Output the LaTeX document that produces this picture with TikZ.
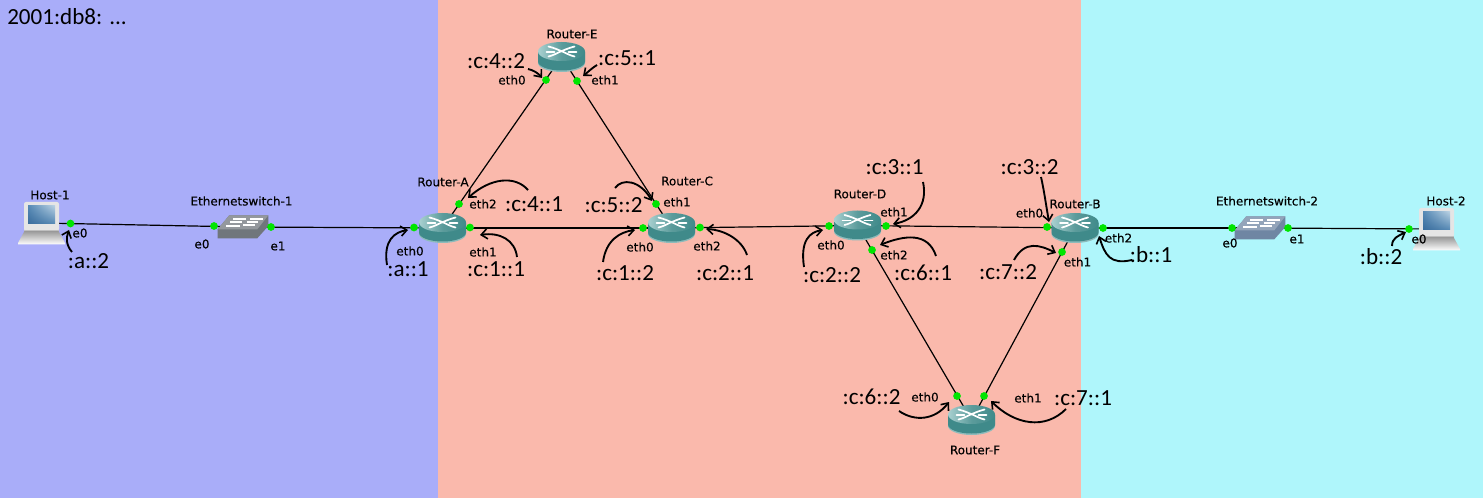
\documentclass[tikz,border=0pt]{standalone}
\usepackage{fontspec}
\setmainfont{DejaVu Sans}
\newfontfamily\bigfont{Carlito}
\newfontfamily\smallfont[FakeBold=0.3]{DejaVu Sans}
\usetikzlibrary{calc,arrows.meta,shadings}
\definecolor{bgblue}{HTML}{A9ADF9}
\definecolor{bgsalmon}{HTML}{FAB9AC}
\definecolor{bgcyan}{HTML}{AFF6FB}
\definecolor{teal1}{HTML}{3F8A8A}
\definecolor{teal2}{HTML}{A9D0D0}
\definecolor{tealrim}{HTML}{8DBBBB}
\definecolor{swgray}{HTML}{70767C}
\definecolor{swblue}{HTML}{6F86A3}
\definecolor{scrA}{HTML}{3A6C9C}
\definecolor{scrB}{HTML}{B8D0E2}
\definecolor{scrC}{HTML}{5488B4}
\tikzset{
  x=0.75pt,y=-0.75pt,
  anchorpt/.style={inner sep=0pt,minimum size=0pt,outer sep=0pt},
  portdot/.style={circle,fill=green!90!black,draw=none,inner sep=0pt,minimum size=5.8pt},
  smalltxt/.style={inner sep=0pt,font=\smallfont\fontsize{9}{10}\selectfont,text=black},
  bigtxt/.style={inner sep=0pt,font=\bigfont\fontsize{17.3}{20}\selectfont,text=black},
  linkline/.style={draw=black,line width=0.9pt},
  addrarrow/.style={draw=black,line width=1.4pt,-{Straight Barb[length=4.5pt,width=7.5pt,line width=1.2pt]}},
  routericon/.pic={
    \fill[tealrim] (-23.5,-5) -- (-23.5,6) arc[start angle=180,end angle=0,x radius=23.5,y radius=9] -- (23.5,-5) -- cycle;
    \fill[teal1] (-23.5,-5) -- (-23.5,4.5) arc[start angle=180,end angle=0,x radius=23.5,y radius=9] -- (23.5,-5) -- cycle;
    \shade[left color=teal2,right color=teal1,middle color=teal1!85!white] (0,-5.5) ellipse[x radius=23.5,y radius=9.5];
    \draw[white,line width=1.3pt,line cap=round] (-13,-10.5) .. controls (-7,-9) and (-3,-7) .. (2,-5) .. controls (6,-3) and (9,-1.5) .. (13,-0.5);
    \draw[white,line width=1.3pt,line cap=round] (13,-10.5) .. controls (7,-9) and (3,-7) .. (-2,-5) .. controls (-6,-3) and (-9,-1.5) .. (-13,-0.5);
    \draw[white,line width=1.3pt,line cap=round] (-15,-5) -- (-7,-5) (7,-5) -- (15,-5);
  },
  switchicon/.pic={
    \fill[#1] (-25.3,2.3) -- (-13.7,-11.7) -- (25.3,-11.7) -- (25.3,-1) -- (14.3,11.3) -- (-25.3,11.3) -- cycle;
    \fill[#1!75!white] (-25.3,2.3) -- (-13.7,-11.7) -- (25.3,-11.7) -- (14.3,2.3) -- cycle;
    \draw[white,line width=1pt] (-17,-1) -- (-3,-1) (-10,-8) -- (3,-8) (0,-2) -- (12,-2) (7,-8) -- (20,-8);
    \draw[white,line width=1pt] (-13,-5) -- (-1,-5) (4,-5) -- (15,-5);
  },
  laptopicon/.pic={
    \fill[black!10,rounded corners=1.5pt] (-17.5,-21) rectangle (17.5,8);
    \fill[gray!45] (-17.5,7) rectangle (17.5,9);
    \shade[top color=black!40,bottom color=white] (-17,8) -- (17,8) -- (23.5,20) -- (23.5,21.5) -- (-23.5,21.5) -- (-23.5,20) -- cycle;
    \shade[lower left=scrA,upper right=scrB,lower right=scrC,upper left=scrC] (-13.5,-17) rectangle (13.5,1);
  }
}
\begin{document}
\begin{tikzpicture}
\useasboundingbox (0,0) rectangle (1483,498);
% background zones
\fill[bgblue] (0,0) rectangle (438,498);
\fill[bgsalmon] (438,0) rectangle (1081,498);
\fill[bgcyan] (1081,0) rectangle (1483,498);
% device centres
\node[anchorpt] (h1) at (41.5,223) {};
\node[anchorpt] (s1) at (243,227) {};
\node[anchorpt] (ra) at (442.5,228) {};
\node[anchorpt] (rc) at (671.5,228) {};
\node[anchorpt] (re) at (561.5,57) {};
\node[anchorpt] (rd) at (857.5,225.5) {};
\node[anchorpt] (rb) at (1075,228) {};
\node[anchorpt] (rf) at (971.5,420) {};
\node[anchorpt] (s2) at (1260,228) {};
\node[anchorpt] (h2) at (1436.5,229) {};
% links
\draw[linkline] (h1.center) -- (s1.center);
\draw[linkline] (s1.center) -- (ra.center);
\draw[linkline] (ra.center) -- (rc.center);
\draw[linkline] (ra.center) -- (re.center);
\draw[linkline] (re.center) -- (rc.center);
\draw[linkline] (rc.center) -- (rd.center);
\draw[linkline] (rd.center) -- (rb.center);
\draw[linkline] (rd.center) -- (rf.center);
\draw[linkline] (rb.center) -- (rf.center);
\draw[linkline] (rb.center) -- (s2.center);
\draw[linkline] (s2.center) -- (h2.center);
% icons
\pic at (h1) {laptopicon};
\pic at (h2) {laptopicon};
\pic at (s1) {switchicon=swgray};
\pic at (s2) {switchicon=swblue};
\foreach \r in {ra,rc,re,rd,rb,rf} {\pic at (\r) {routericon};}
% ports
\node[portdot] (ph1) at (70.5,223.5) {};
\node[portdot] (ps1a) at (214,226) {};
\node[portdot] (ps1b) at (271,227) {};
\node[portdot] (pa0) at (414,227.5) {};
\node[portdot] (pa1) at (470,227.5) {};
\node[portdot] (pa2) at (459,204) {};
\node[portdot] (pe0) at (546,80) {};
\node[portdot] (pe1) at (577,81) {};
\node[portdot] (pc0) at (643,228) {};
\node[portdot] (pc1) at (656,204) {};
\node[portdot] (pc2) at (700,227.5) {};
\node[portdot] (pd0) at (829,226) {};
\node[portdot] (pd1) at (886,226) {};
\node[portdot] (pd2) at (872,250) {};
\node[portdot] (pb0) at (1047,227) {};
\node[portdot] (pb1) at (1062,252) {};
\node[portdot] (pb2) at (1103,228) {};
\node[portdot] (pf0) at (957,396) {};
\node[portdot] (pf1) at (984,396) {};
\node[portdot] (ps2a) at (1232,228) {};
\node[portdot] (ps2b) at (1288,228) {};
\node[portdot] (ph2) at (1409,229) {};
% device and port names
\node[smalltxt] (n1) at (50,195) {Host-1};
\node[smalltxt] (n2) at (241.5,201) {Ethernetswitch-1};
\node[smalltxt] (n3) at (443,182) {Router-A};
\node[smalltxt] (n4) at (572,34) {Router-E};
\node[smalltxt] (n5) at (687,181) {Router-C};
\node[smalltxt] (n6) at (860,194) {Router-D};
\node[smalltxt] (n7) at (1075,204) {Router-B};
\node[smalltxt] (n8) at (975,450) {Router-F};
\node[smalltxt] (n9) at (1267,201) {Ethernetswitch-2};
\node[smalltxt] (n10) at (1446,201) {Host-2};
\node[smalltxt] (t1) at (80,233) {e0};
\node[smalltxt] (t2) at (202,244) {e0};
\node[smalltxt] (t3) at (278,246) {e1};
\node[smalltxt] (t4) at (410,251) {eth0};
\node[smalltxt] (t5) at (483,252) {eth1};
\node[smalltxt] (t6) at (483,204) {eth2};
\node[smalltxt] (t7) at (512,80) {eth0};
\node[smalltxt] (t8) at (605,80) {eth1};
\node[smalltxt] (t9) at (677,202) {eth1};
\node[smalltxt] (t10) at (640,247) {eth0};
\node[smalltxt] (t11) at (707,246) {eth2};
\node[smalltxt] (t12) at (894,212) {eth1};
\node[smalltxt] (t13) at (831,245) {eth0};
\node[smalltxt] (t14) at (894,255) {eth2};
\node[smalltxt] (t15) at (1029.5,213) {eth0};
\node[smalltxt] (t16) at (1118.5,238) {eth2};
\node[smalltxt] (t17) at (1077.5,262) {eth1};
\node[smalltxt] (t18) at (925,397) {eth0};
\node[smalltxt] (t19) at (1028,398) {eth1};
\node[smalltxt] (t20) at (1230,243) {e0};
\node[smalltxt] (t21) at (1297,239) {e1};
\node[smalltxt] (t22) at (1419,239) {e0};
% addresses
\node[bigtxt,anchor=west] (prefix) at (7,17) {2001:db8: ...};
\node[bigtxt] (la2) at (88.5,261) {:a::2};
\node[bigtxt] (la1) at (408,269) {:a::1};
\node[bigtxt] (lc11) at (496,269) {:c:1::1};
\node[bigtxt] (lc41) at (534,204) {:c:4::1};
\node[bigtxt] (lc42) at (496,61) {:c:4::2};
\node[bigtxt] (lc51) at (627,58) {:c:5::1};
\node[bigtxt] (lc52) at (613.5,205) {:c:5::2};
\node[bigtxt] (lc12) at (625,273) {:c:1::2};
\node[bigtxt] (lc21) at (725,273) {:c:2::1};
\node[bigtxt] (lc22) at (832,275) {:c:2::2};
\node[bigtxt] (lc31) at (894.5,167) {:c:3::1};
\node[bigtxt] (lc61) at (923,273) {:c:6::1};
\node[bigtxt] (lc32) at (1029.5,167) {:c:3::2};
\node[bigtxt] (lc72) at (1008,272) {:c:7::2};
\node[bigtxt] (lb1) at (1151,255) {:b::1};
\node[bigtxt] (lc62) at (871.5,397) {:c:6::2};
\node[bigtxt] (lc71) at (1083,398) {:c:7::1};
\node[bigtxt] (lb2) at (1381,257) {:b::2};
% address arrows
\draw[addrarrow] ($(la2)+(-16.5,-9)$) .. controls (66,245) and (66,238) .. ($(ph1)+(-1.5,6.5)$);
\draw[addrarrow] ($(la1)+(-21,-4)$) .. controls (383,240) and (395,232) .. ($(pa0)+(-6,2.5)$);
\draw[addrarrow] ($(lc11)+(21,-12)$) .. controls (515,240) and (500,232) .. ($(pa1)+(10,7.5)$);
\draw[addrarrow] ($(lc41)+(-6,-14)$) .. controls (515,175) and (490,178) .. ($(pa2)+(9,-6)$);
\draw[addrarrow] ($(lc42)+(32,8)$) .. controls (533,70) and (538,73) .. ($(pe0)+(-4,-2)$);
\draw[addrarrow] ($(lc51)+(-30,7)$) .. controls (592,68) and (588,72) .. ($(pe1)+(6,-5)$);
\draw[addrarrow] ($(lc52)+(1.5,-17)$) .. controls (622,178) and (640,180) .. ($(pc1)+(-4,-3)$);
\draw[addrarrow] ($(lc12)+(-22,-11)$) .. controls (606,240) and (620,232) .. ($(pc0)+(-8,2)$);
\draw[addrarrow] ($(lc21)+(22,-18)$) .. controls (742,240) and (725,230) .. ($(pc2)+(6,1.5)$);
\draw[addrarrow] ($(lc22)+(-28,-8)$) .. controls (800,240) and (810,232) .. ($(pd0)+(-6,4)$);
\draw[addrarrow] ($(lc31)+(28.5,15)$) .. controls (928,205) and (915,220) .. ($(pd1)+(7,-2)$);
\draw[addrarrow] ($(lc61)+(13,-17)$) .. controls (928,232) and (905,235) .. ($(pd2)+(8,-5)$);
\draw[addrarrow] ($(lc32)+(11.5,10)$) .. controls (1044,190) and (1046,205) .. ($(pb0)+(2,-5)$);
\draw[addrarrow] ($(lc72)+(6,-12)$) .. controls (1025,240) and (1040,245) .. ($(pb1)+(-6,1)$);
\draw[addrarrow] ($(lb1)+(-19,5)$) .. controls (1110,265) and (1105,255) .. ($(pb2)+(-4,8)$);
\draw[addrarrow] ($(lc62)+(27.5,14)$) .. controls (915,422) and (935,420) .. ($(pf0)+(-8,6)$);
\draw[addrarrow] ($(lc71)+(-17,11)$) .. controls (1045,430) and (1015,425) .. ($(pf1)+(7,5)$);
\draw[addrarrow] ($(lb2)+(11,-11)$) .. controls (1392,238) and (1398,236) .. ($(ph2)+(-3,3)$);
\end{tikzpicture}
\end{document}
